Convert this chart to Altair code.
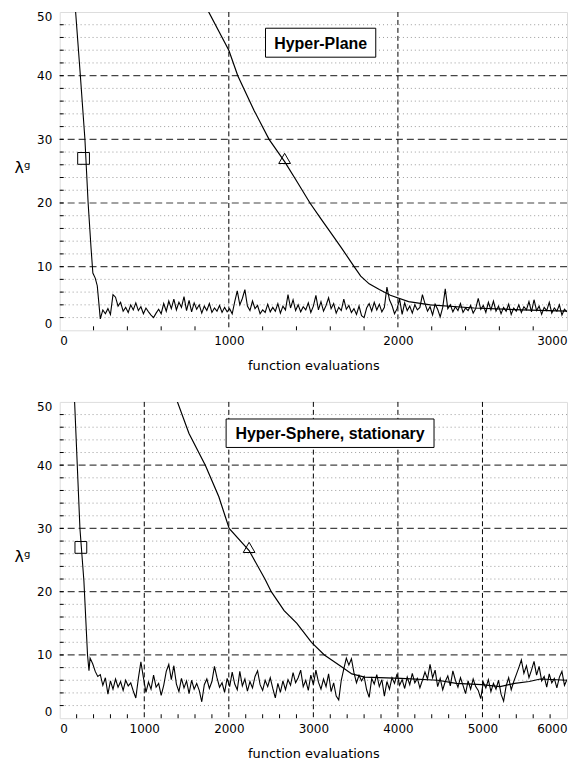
import altair as alt
import pandas as pd

# ---------------- data: top panel (Hyper-Plane) ----------------
top_fast_head_x = [80, 94, 122, 149, 168, 185, 196, 210, 222]
top_fast_head_y = [56, 50, 40, 30, 20, 13, 9, 8.2, 7.0]
top_noise_start = 240
top_noise_step = 15
top_noise = [
    1.8, 3.2, 2.6, 3.4, 2.5, 5.6, 5.2, 3.8, 4.4, 3.0, 3.6, 2.8, 4.0, 3.2, 4.3, 3.1, 3.7, 2.6, 3.5, 2.9,
    2.4, 2.0, 2.7, 3.3, 2.6, 4.2, 3.0, 4.6, 3.4, 4.9, 3.2, 4.4, 3.6, 5.3, 3.1, 4.7, 2.9, 4.3, 3.3, 4.0,
    2.7, 3.8, 3.1, 4.2, 2.8, 3.5, 3.0, 3.9, 2.8, 3.6, 2.9, 3.4, 2.6, 4.5, 6.2, 4.0, 5.0, 6.4, 3.8, 3.1,
    4.6, 3.4, 3.9, 2.6, 3.2, 2.8, 4.1, 2.9, 3.6, 3.0, 4.2, 2.7, 3.8, 3.2, 5.6, 3.5, 4.8, 3.1, 4.0, 2.9,
    3.7, 3.2, 4.3, 2.8, 3.8, 5.5, 3.2, 4.5, 3.0, 3.9, 5.1, 3.4, 4.2, 2.7, 3.6, 3.1, 4.9, 3.3, 3.9, 2.8,
    3.4, 2.5, 3.8, 2.3, 2.0, 3.5, 4.2, 3.0, 4.4, 3.2, 4.1, 2.9, 3.6, 6.8, 4.8, 3.9, 2.6, 3.4, 4.9, 2.5,
    4.3, 3.1, 3.8, 2.7, 4.0, 3.2, 3.6, 5.6, 4.2, 3.0, 3.7, 2.4, 4.1, 3.3, 2.1, 3.6, 6.5, 3.4, 4.0, 2.9,
    3.7, 3.1, 4.2, 2.8, 3.5, 3.1, 3.9, 2.7, 3.4, 5.0, 3.3, 3.9, 2.8, 4.4, 3.2, 4.6, 3.0, 3.8, 2.6, 3.6,
    3.0, 4.1, 2.5, 3.5, 3.0, 4.0, 2.8, 3.7, 3.2, 4.5, 2.9, 4.8, 3.1, 3.8, 2.5, 3.6, 3.1, 4.4, 2.7, 3.5,
    3.0, 4.0, 2.4, 3.3, 2.9,
]
top_slow_x = [860, 881, 1000, 1053, 1150, 1238, 1330, 1400, 1480, 1545, 1612, 1665, 1741, 1780,
              1830, 1890, 1955, 2063, 2192, 2451, 2732, 3000]
top_slow_y = [52, 50, 44, 40, 34.5, 30, 26.5, 23.5, 20, 17.5, 15, 13, 10, 8.5,
              7.3, 6.4, 5.5, 4.5, 4.0, 3.5, 3.2, 3.0]
top_marker_x = [141, 1330]
top_marker_y = [27, 27]
top_x_ticks = [0, 1000, 2000, 3000]
top_x_grid = [1000, 2000]
top_x_minor = [200, 400, 600, 800, 1200, 1400, 1600, 1800, 2200, 2400, 2600, 2800]
top_label = "Hyper-Plane"
top_box = [1217, 1869, 42.9, 47.45]

# ---------------- data: bottom panel (Hyper-Sphere) ----------------
bot_fast_head_x = [160, 176, 239, 286, 329, 346, 359]
bot_fast_head_y = [56, 50, 30, 21.7, 10, 7.5, 9.5]
bot_noise_start = 390
bot_noise_step = 30
bot_noise = [
    8.6, 7.4, 6.6, 6.9, 5.2, 6.4, 3.8, 5.9, 4.6, 6.2, 4.9, 5.8, 4.4, 6.0, 5.1, 5.6, 4.3, 3.2, 6.3, 8.9,
    6.4, 4.1, 5.7, 4.6, 6.8, 4.9, 5.5, 3.6, 5.2, 7.4, 8.5, 6.1, 8.3, 5.4, 4.2, 6.3, 4.8, 5.9, 3.9, 6.0,
    4.6, 5.5, 4.4, 2.6, 5.3, 6.2, 4.7, 5.8, 8.2, 6.4, 4.9, 5.6, 4.1, 6.3, 5.0, 7.3, 5.4, 4.5, 7.4, 5.1,
    6.2, 4.3, 5.8, 4.8, 6.6, 7.5, 5.3, 4.4, 6.0, 5.0, 6.4, 4.7, 3.2, 5.5, 4.1, 5.9, 4.5, 6.1, 5.2, 7.2,
    5.6, 6.4, 7.6, 5.0, 6.0, 4.4, 6.8, 5.3, 7.6, 5.7, 4.6, 6.2, 5.0, 7.0, 4.2, 5.6, 3.5, 2.9, 6.0, 7.8,
    9.5, 8.4, 9.4, 7.2, 5.6, 6.8, 5.9, 6.6, 4.5, 3.3, 6.3, 5.4, 6.9, 5.0, 6.1, 3.5, 5.8, 4.6, 6.4, 5.5,
    7.0, 5.2, 6.1, 4.7, 6.5, 5.3, 7.1, 5.6, 6.3, 4.8, 6.0, 7.3, 6.2, 8.5, 6.4, 7.6, 5.0, 6.3, 4.5, 5.8,
    6.7, 5.1, 7.5, 6.0, 4.9, 6.4, 5.2, 3.9, 5.9, 4.6, 6.2, 5.0, 4.4, 3.1, 5.7, 4.8, 6.1, 4.2, 5.5, 4.6,
    6.0, 3.8, 2.7, 5.1, 6.4, 4.5, 5.8, 6.9, 8.0, 9.2, 7.1, 8.3, 6.4, 7.6, 9.0, 6.8, 8.2, 5.9, 6.6, 4.9,
    7.0, 5.6, 6.3, 4.8, 6.5, 7.4, 5.2, 6.1,
]
bot_slow_x = [1370, 1392, 1529, 1722, 1882, 2004, 2240, 2427, 2502, 2654, 2805, 2978, 3130, 3238,
              3346, 3455, 3606, 4039, 4472, 4688, 4991, 5208, 5381, 5554, 5684, 6000]
bot_slow_y = [51, 50, 45, 40, 35, 30, 26.5, 22, 20, 17, 15, 12, 10, 9,
              8, 7, 6.5, 6.3, 6.0, 5.5, 5.3, 5.0, 5.5, 5.8, 6.2, 6.0]
bot_marker_x = [250, 2240]
bot_marker_y = [27, 27]
bot_x_ticks = [0, 1000, 2000, 3000, 4000, 5000, 6000]
bot_x_grid = [1000, 2000, 3000, 4000, 5000]
bot_x_minor = [200, 400, 600, 800, 1200, 1400, 1600, 1800, 2200, 2400, 2600, 2800,
               3200, 3400, 3600, 3800, 4200, 4400, 4600, 4800, 5200, 5400, 5600, 5800]
bot_label = "Hyper-Sphere, stationary"
bot_box = [1968, 4427, 42.8, 47.3]

y_major = [10, 20, 30, 40]
y_minor = [2, 4, 6, 8, 12, 14, 16, 18, 22, 24, 26, 28, 32, 34, 36, 38, 42, 44, 46, 48]
y_ticks = [0, 10, 20, 30, 40, 50]
marker_shapes = ["square", "triangle-up"]

FONT = "DejaVu Sans"


def panel(head_x, head_y, noise_start, noise_step, noise, slow_x, slow_y,
          mk_x, mk_y, x_ticks, x_grid, x_minor, label, box, xmax, w, h):
    fast = pd.DataFrame({
        "x": list(head_x) + [noise_start + noise_step * i for i in range(len(noise))],
        "y": list(head_y) + list(noise),
    })
    slow = pd.DataFrame({"x": slow_x, "y": slow_y})
    marks = pd.DataFrame({"x": mk_x, "y": mk_y, "shape": marker_shapes})
    xs = alt.Scale(domain=[0, xmax], nice=False, zero=False)
    ys = alt.Scale(domain=[0, 50], nice=False, zero=False)

    x_axis = alt.Axis(values=x_ticks, grid=False, ticks=False, labelFlush=True,
                      labelPadding=5, title="function evaluations", titlePadding=13,
                      labelFont=FONT, labelFontSize=12, titleFont=FONT,
                      titleFontSize=13, titleFontWeight="normal", labelColor="black",
                      titleColor="black", domain=False, format="d")
    y_axis = alt.Axis(values=y_ticks, grid=False, ticks=False, labelPadding=8,
                      labelFlush=True, labelFlushOffset=0,
                      title="λᵍ", titleAngle=0, titleX=-38, titleY=h * 0.49,
                      titleAlign="center", titleBaseline="middle",
                      labelFont=FONT, labelFontSize=12, titleFont=FONT,
                      titleFontSize=16, titleFontWeight="normal", labelColor="black",
                      titleColor="black", domain=False)

    base_x = alt.X("x:Q", scale=xs, axis=x_axis)
    base_y = alt.Y("y:Q", scale=ys, axis=y_axis)

    minor_grid = alt.Chart(pd.DataFrame({"y": y_minor})).mark_rule(
        color="#9a9a9a", strokeDash=[1, 3], strokeWidth=1
    ).encode(y=alt.Y("y:Q", scale=ys))
    major_grid = alt.Chart(pd.DataFrame({"y": y_major})).mark_rule(
        color="#444444", strokeDash=[7, 4], strokeWidth=1.2
    ).encode(y=alt.Y("y:Q", scale=ys))
    vgrid = alt.Chart(pd.DataFrame({"x": x_grid})).mark_rule(
        color="black", strokeDash=[5, 3], strokeWidth=1
    ).encode(x=alt.X("x:Q", scale=xs))
    xminor = alt.Chart(pd.DataFrame({"x": x_minor})).mark_rule(
        color="black", strokeWidth=1
    ).encode(x=alt.X("x:Q", scale=xs), y=alt.value(h), y2=alt.value(h - 4))
    yminor = alt.Chart(pd.DataFrame({"y": y_minor + y_major})).mark_rule(
        color="black", strokeWidth=1
    ).encode(y=alt.Y("y:Q", scale=ys), x=alt.value(0), x2=alt.value(4))

    fast_line = alt.Chart(fast).mark_line(color="black", strokeWidth=1.1, clip=True).encode(
        x=alt.X("x:Q", scale=xs), y=alt.Y("y:Q", scale=ys))
    slow_line = alt.Chart(slow).mark_line(color="black", strokeWidth=1.2, clip=True).encode(
        x=alt.X("x:Q", scale=xs), y=alt.Y("y:Q", scale=ys))
    points = alt.Chart(marks).mark_point(filled=False, color="black", strokeWidth=1,
                                         size=140, opacity=1).encode(
        x=alt.X("x:Q", scale=xs), y=alt.Y("y:Q", scale=ys),
        shape=alt.Shape("shape:N", scale=None, legend=None))

    boxdf = pd.DataFrame({"x": [box[0]], "x2": [box[1]], "y": [box[2]], "y2": [box[3]],
                          "xc": [(box[0] + box[1]) / 2], "yc": [(box[2] + box[3]) / 2],
                          "t": [label]})
    rect = alt.Chart(boxdf).mark_rect(fill="white", stroke="black", strokeWidth=1).encode(
        x=alt.X("x:Q", scale=xs), x2="x2:Q", y=alt.Y("y:Q", scale=ys), y2="y2:Q")
    text = alt.Chart(boxdf).mark_text(font="Liberation Sans", fontWeight="bold",
                                      fontSize=16, color="black", baseline="middle",
                                      align="center", dy=1).encode(
        x=alt.X("xc:Q", scale=xs), y=alt.Y("yc:Q", scale=ys), text="t:N")

    axes = alt.Chart(pd.DataFrame({"x": [0], "y": [0]})).mark_point(opacity=0).encode(
        x=base_x, y=base_y)

    return alt.layer(axes, minor_grid, major_grid, vgrid, xminor, yminor,
                     fast_line, slow_line, points, rect, text).properties(width=w, height=h)


top = panel(top_fast_head_x, top_fast_head_y, top_noise_start, top_noise_step, top_noise,
            top_slow_x, top_slow_y, top_marker_x, top_marker_y, top_x_ticks, top_x_grid,
            top_x_minor, top_label, top_box, 3000, 510, 320)
bot = panel(bot_fast_head_x, bot_fast_head_y, bot_noise_start, bot_noise_step, bot_noise,
            bot_slow_x, bot_slow_y, bot_marker_x, bot_marker_y, bot_x_ticks, bot_x_grid,
            bot_x_minor, bot_label, bot_box, 6000, 510, 318)

chart = alt.vconcat(top, bot, spacing=27).properties(
    padding={"left": 5, "top": 0, "right": 0, "bottom": 0}
).configure_view(stroke="black", strokeWidth=2.2).configure(background="white")

chart.save("out.html", embed_options={"renderer": "svg", "actions": False})
